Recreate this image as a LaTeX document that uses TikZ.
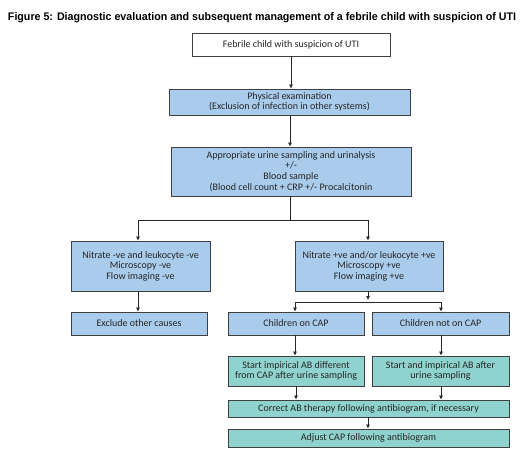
\documentclass[tikz,border=0pt]{standalone}
\usepackage{fontspec}
\setmainfont{Carlito}
\newfontfamily\titlefont{Liberation Sans}
\usetikzlibrary{arrows.meta}
\definecolor{boxblue}{HTML}{A9CBEC}
\definecolor{boxteal}{HTML}{8FD3CE}
\definecolor{edge}{HTML}{404040}
\begin{document}
\begin{tikzpicture}[x=1pt,y=-1pt,
  box/.style={draw=edge,line width=0.8pt,fill=boxblue,align=center,inner sep=0pt,
    font=\fontsize{10}{10.6}\selectfont,text=black!85},
  tbox/.style={box,fill=boxteal},
  wbox/.style={box,fill=white},
  conn/.style={draw=black!85,line width=0.7pt},
  arr/.style={conn,-{Latex[length=4pt,width=4pt]}}]
\useasboundingbox (0,0) rectangle (526,456);
\node[anchor=center] (title) at (262,18) {\resizebox{508pt}{8pt}{\titlefont\bfseries Figure 5: Diagnostic evaluation and subsequent management of a febrile child with suspicion of UTI}};
\node[wbox,minimum width=198pt,minimum height=23pt] (b1) at (291,44.5) {Febrile child with suspicion of UTI};
\node[box,minimum width=241pt,minimum height=26pt] (b2) at (289.5,102) {Physical examination\\(Exclusion of infection in other systems)};
\node[box,minimum width=240pt,minimum height=49pt] (b3) at (291,171.5) {Appropriate urine sampling and urinalysis\\+/-\\Blood sample\\(Blood cell count + CRP +/- Procalcitonin};
\node[box,minimum width=139pt,minimum height=50pt] (b4) at (140.5,266) {Nitrate -ve and leukocyte -ve\\Microscopy -ve\\Flow imaging -ve};
\node[box,minimum width=148pt,minimum height=50pt] (b5) at (369,266) {Nitrate +ve and/or leukocyte +ve\\Microscopy +ve\\Flow imaging +ve};
\node[box,minimum width=136pt,minimum height=23pt] (b6) at (139,323.5) {Exclude other causes};
\node[box,minimum width=136pt,minimum height=23pt] (b7) at (296,323.5) {Children on CAP};
\node[box,minimum width=137pt,minimum height=23pt] (b8) at (440.5,323.5) {Children not on CAP};
\node[tbox,minimum width=136pt,minimum height=30pt] (b9) at (296,371) {Start impirical AB different\\from CAP after urine sampling};
\node[tbox,minimum width=137pt,minimum height=30pt] (b10) at (440.5,371) {Start and impirical AB after\\urine sampling};
\node[tbox,minimum width=281pt,minimum height=17pt] (b11) at (368.5,408.5) {Correct AB therapy following antibiogram, if necessary};
\node[tbox,minimum width=281pt,minimum height=18pt] (b12) at (368.5,438) {Adjust CAP following antibiogram};
% connectors
\draw[arr] (b1.south -| 291,0) -- (b2.north -| 291,0);
\draw[arr] (b2.south -| 290,0) -- (b3.north -| 290,0);
\coordinate (s3) at (290,220);
\draw[conn] (b3.south -| 290,0) -- (s3);
\draw[arr] (s3) -| (b4.north -| 138,0);
\draw[arr] (s3) -| (b5.north -| 368,0);
\draw[arr] (b4.south -| 138,0) -- (b6.north -| 138,0);
\coordinate (s5) at (368,302);
\draw[arr] (b5.south -| 368,0) -- (368,300);
\draw[arr] (s5) -| (b7.north -| 295,0);
\draw[arr] (s5) -| (b8.north -| 441,0);
\draw[arr] (b7.south -| 295,0) -- (b9.north -| 295,0);
\draw[arr] (b8.south -| 441,0) -- (b10.north -| 441,0);
\draw[arr] (b9.south -| 296,0) -- (b11.north -| 296,0);
\draw[arr] (b10.south -| 441,0) -- (b11.north -| 441,0);
\draw[arr] (b11.south -| 368,0) -- (b12.north -| 368,0);
\end{tikzpicture}
\end{document}
